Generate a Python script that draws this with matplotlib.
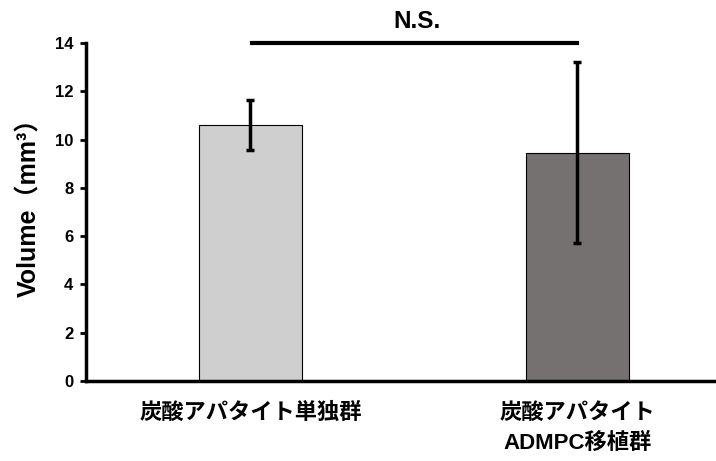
import numpy as np
import matplotlib
matplotlib.use('Agg')
import matplotlib.pyplot as plt

plt.rcParams['font.family'] = ['Liberation Sans', 'Noto Sans CJK JP', 'DejaVu Sans']

# data
groups = ['炭酸アパタイト単独群', '炭酸アパタイト\nADMPC移植群']
volume = [10.6, 9.45]
err = [1.02, 3.75]
bar_colors = ['#d0cfd0', '#757170']
yticks = [0, 2, 4, 6, 8, 10, 12, 14]
sig_label = 'N.S.'

fig = plt.figure(figsize=(7.16, 4.61), dpi=100)
ax = fig.add_axes([0.120, 0.1735, 0.88, 0.7332])

x = np.arange(len(groups))
ax.bar(x, volume, width=0.313, color=bar_colors, edgecolor='black', linewidth=0.8, zorder=2)
ax.errorbar(x, volume, yerr=err, fmt='none', ecolor='black', elinewidth=2.5,
            capsize=3, capthick=2.5, zorder=3)

# significance bar
ax.plot([0.005, 1.0], [14, 14], color='black', lw=3, clip_on=False, zorder=4)
ax.text(0.51, 14.4, sig_label, ha='center', va='bottom', fontsize=17.5,
        fontweight='bold', family=['Liberation Sans'])

ax.set_xlim(-0.503, 1.424)
ax.set_ylim(0, 14)
ax.set_yticks(yticks)
ax.set_yticklabels([str(t) for t in yticks], fontsize=12, fontweight='bold')
ax.set_xticks(x)
ax.set_xticklabels(groups, fontsize=16, fontweight='bold', linespacing=1.55,
                   family=['Liberation Sans', 'Noto Sans CJK JP'])
ax.tick_params(axis='x', length=0, pad=16)
ax.tick_params(axis='y', length=4, width=2, direction='out', pad=5)

for s in ['top', 'right']:
    ax.spines[s].set_visible(False)
for s in ['left', 'bottom']:
    ax.spines[s].set_linewidth(2.5)

ax.set_ylabel('Volume（mm³）', fontsize=18, fontweight='bold',
              family=['Liberation Sans', 'Noto Sans CJK JP'])
ax.yaxis.set_label_coords(-0.07, 0.53)

fig.savefig('out.png', dpi=100)
